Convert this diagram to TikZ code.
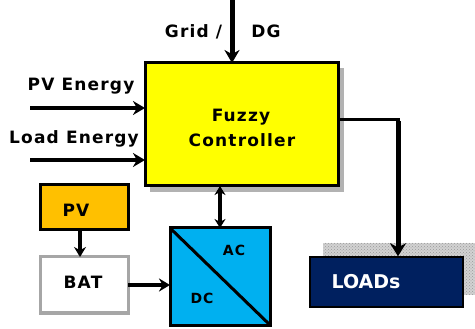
\documentclass[tikz,border=0pt]{standalone}
\usepackage{fontspec}
\setmainfont{DejaVu Sans}
\newfontfamily\labfont[LetterSpace=7]{DejaVu Sans}
\usetikzlibrary{arrows.meta,patterns}
\definecolor{fuzzyyellow}{HTML}{FFFF00}
\definecolor{pvorange}{HTML}{FFC000}
\definecolor{convcyan}{HTML}{00B0F0}
\definecolor{loadnavy}{HTML}{00205F}
\begin{document}
\begin{tikzpicture}[x=1pt,y=-1pt,
  lab/.style={font=\labfont\bfseries\fontsize{17}{20}\selectfont, anchor=base, inner sep=0pt},
  smalllab/.style={font=\labfont\bfseries\fontsize{14}{16}\selectfont, anchor=base, inner sep=0pt},
  blockbox/.style={draw, line width=3pt, inner sep=0pt, outer sep=0pt},
  thickarrow/.style={line width=4pt, -{Stealth[length=12pt,width=14pt]}},
]
\useasboundingbox (0,0) rectangle (475,329);
% shadows
\fill[gray!60] (150,68) rectangle (344,192);
\fill[gray!35] (323,243) rectangle (475,295);
\fill[pattern=crosshatch dots, pattern color=gray!80] (323,243) rectangle (475,295);
% blocks
\node[blockbox, fill=fuzzyyellow, minimum width=193pt, minimum height=123pt] (fuzzy) at (241.5,124.5) {};
\node[blockbox, fill=pvorange, minimum width=88pt, minimum height=45pt] (pv) at (84,207.5) {};
\node[blockbox, draw=gray!70, fill=white, minimum width=88pt, minimum height=56pt] (bat) at (84,285) {};
\node[blockbox, fill=convcyan, minimum width=100pt, minimum height=97pt] (conv) at (220,276.5) {};
\node[draw, line width=1.5pt, fill=loadnavy, minimum width=153pt, minimum height=50pt, inner sep=0pt] (loads) at (386.5,282) {};
\draw[line width=3pt] (conv.north west) -- (conv.south east);
% texts
\node[lab] (tfuzzy) at (241,122) {Fuzzy};
\node[lab] (tctrl) at (242,147) {Controller};
\node[lab] (tpv) at (76,217) {PV};
\node[lab] (tbat) at (83,289) {BAT};
\node[smalllab] (tac) at (234,255) {AC};
\node[smalllab] (tdc) at (202,303) {DC};
\node[lab, text=white, font=\bfseries\fontsize{19}{22}\selectfont] (tloads) at (366,288) {LOADs};
\node[lab] (tgrid) at (193.5,38) {Grid /};
\node[lab] (tdg) at (266,38) {DG};
\node[lab] (tpve) at (81,91) {PV Energy};
\node[lab] (tle) at (74,144) {Load Energy};
% connectors
\coordinate (gridtop) at (232,0);
\coordinate (pvin) at (30,108);
\coordinate (lein) at (30,160);
\coordinate (turn) at (398,120);
\draw[line width=5pt, -{Stealth[length=13pt,width=15pt]}] (gridtop) -- (gridtop |- fuzzy.north);
\draw[thickarrow] (pvin) -- (pvin -| fuzzy.west);
\draw[thickarrow] (lein) -- (lein -| fuzzy.west);
\draw[line width=3pt] (fuzzy.east |- turn) -- ([xshift=2pt]turn);
\draw[line width=5pt, -{Stealth[length=13pt,width=16pt]}] ([yshift=-1.5pt]turn) -- (turn |- loads.north);
\draw[line width=3.5pt, {Stealth[length=9pt,width=11pt]}-{Stealth[length=9pt,width=11pt]}] (conv.north) -- (conv.north |- fuzzy.south);
\draw[line width=3.5pt, -{Stealth[length=10pt,width=12pt]}] (pv.south -| 80,0) -- (bat.north -| 80,0);
\draw[line width=3.5pt, -{Stealth[length=11pt,width=13pt]}] (bat.east) -- (bat.east -| conv.west);
\end{tikzpicture}
\end{document}
